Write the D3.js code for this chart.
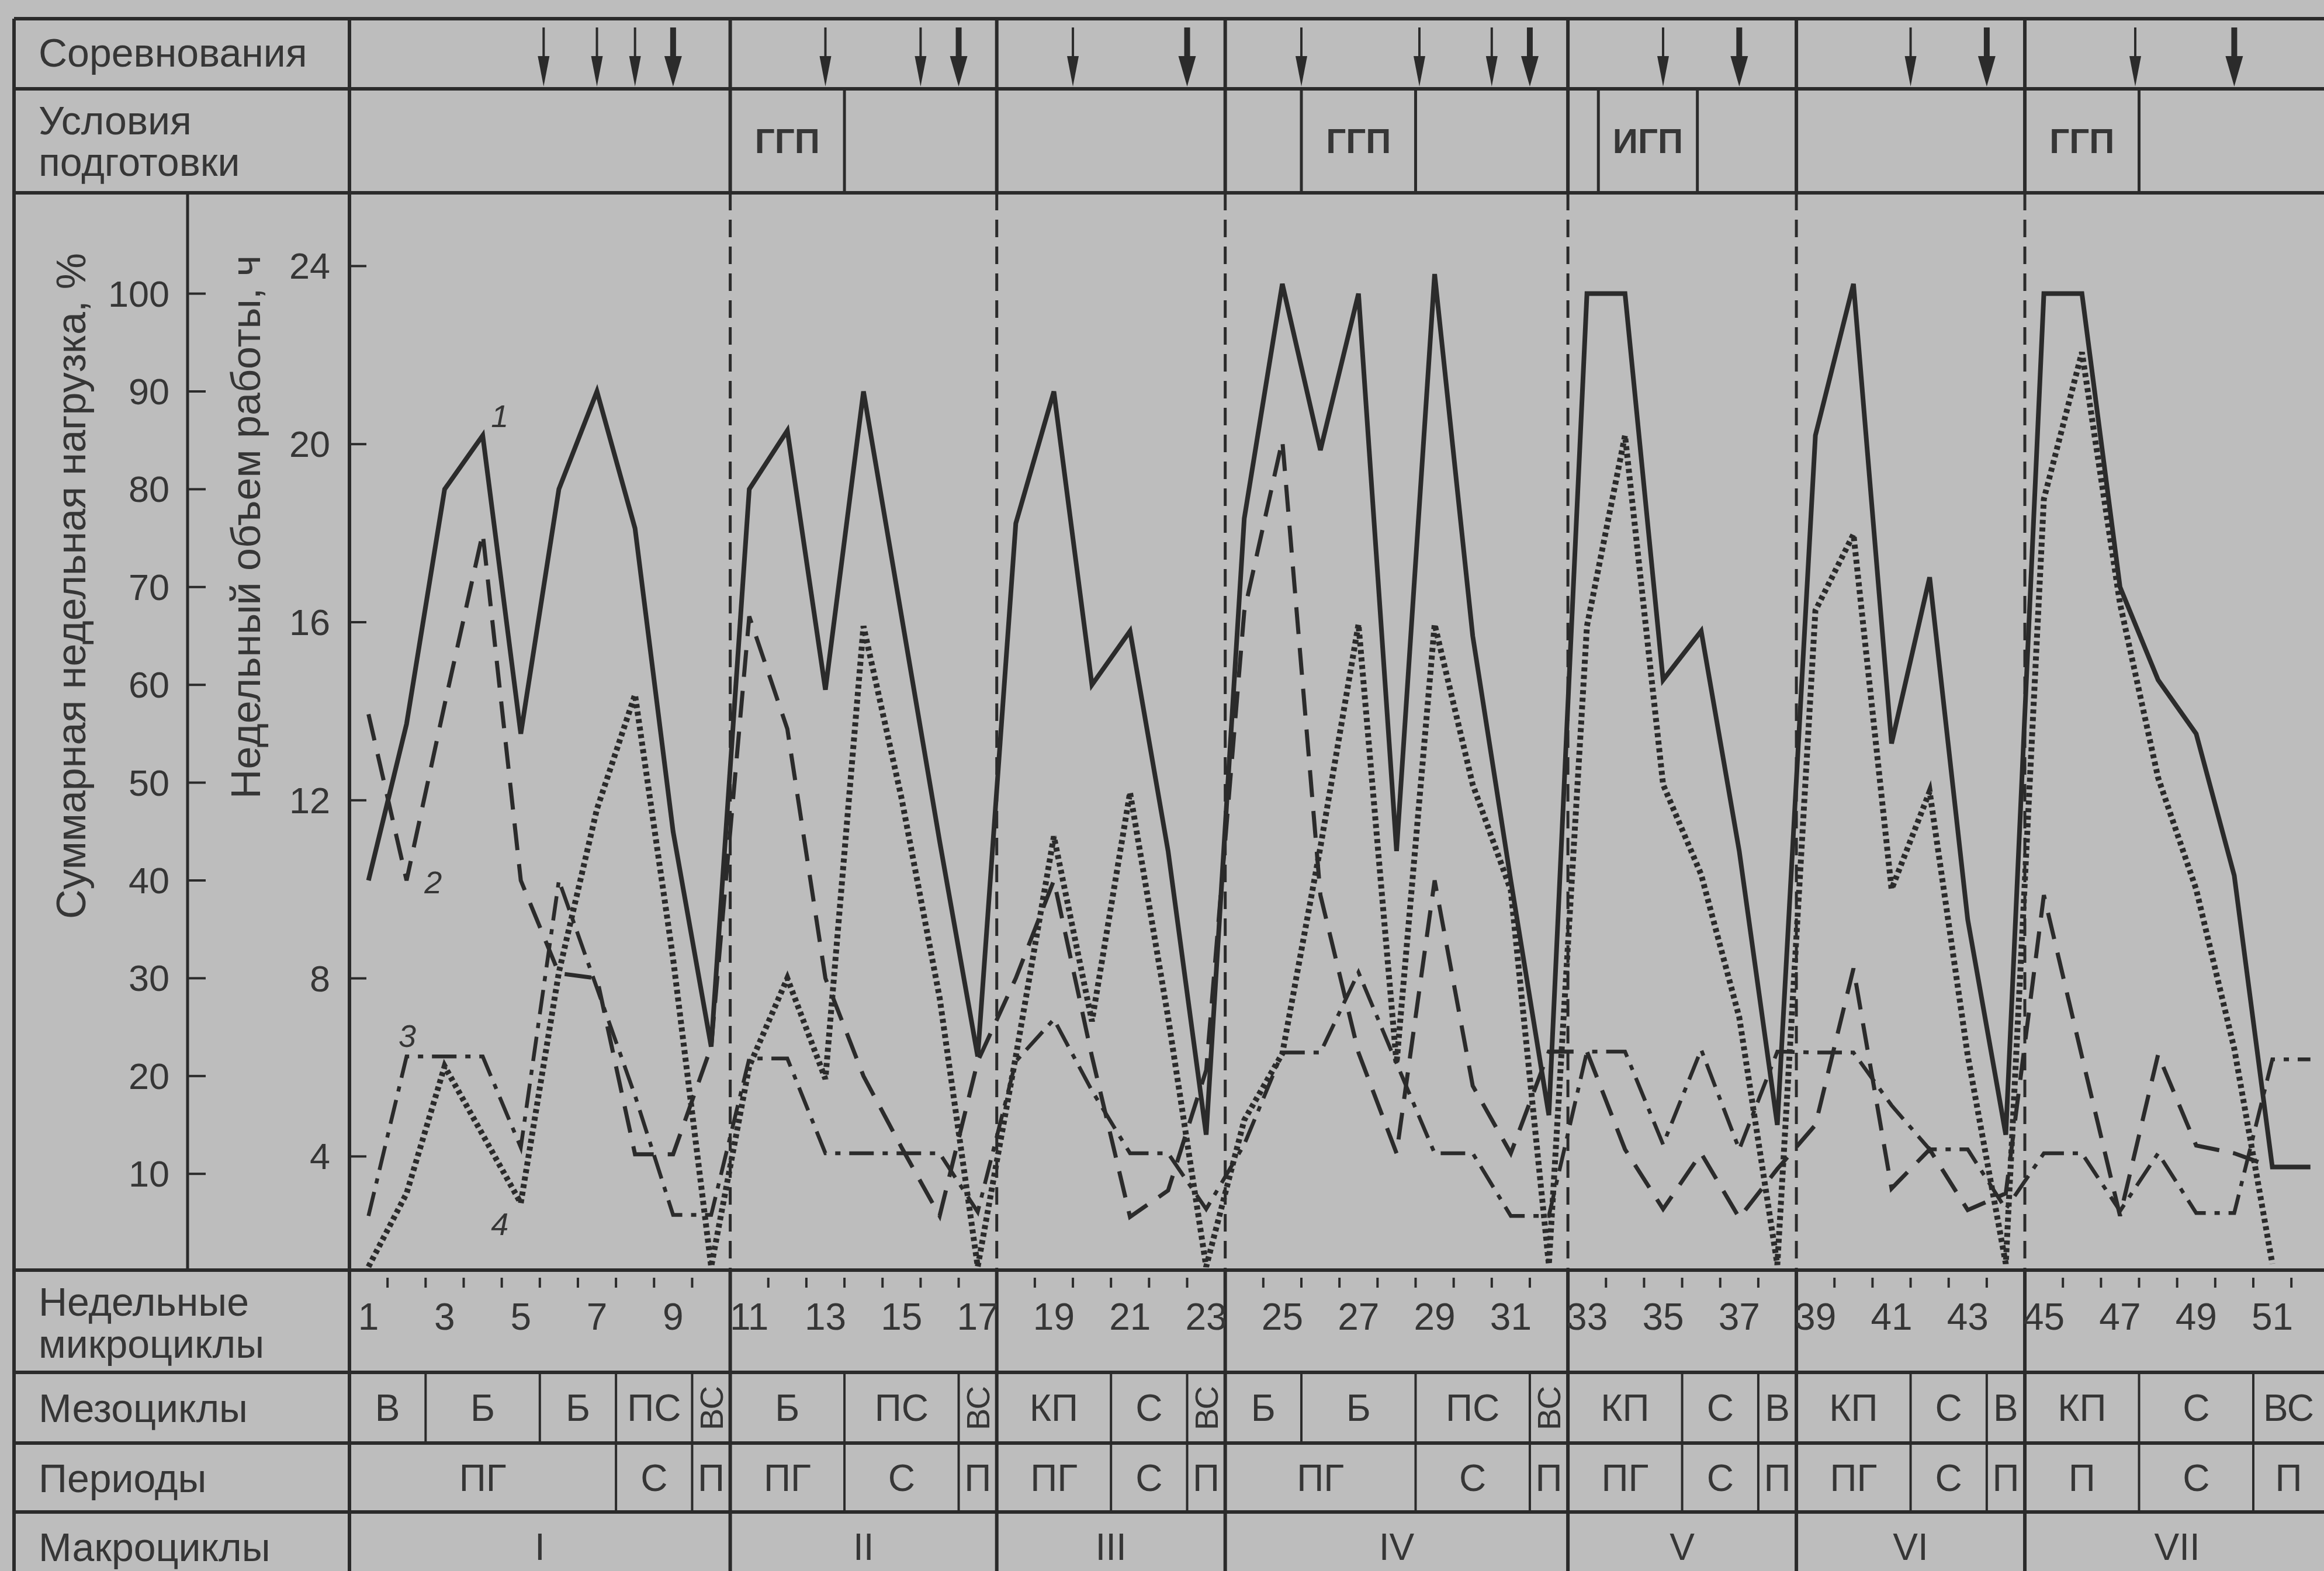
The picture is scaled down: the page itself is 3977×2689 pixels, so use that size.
<!DOCTYPE html>
<html><head><meta charset="utf-8">
<script src="https://cdn.jsdelivr.net/npm/d3@7"></script>
<style>body{margin:0;background:#bcbcbc}svg{display:block}</style>
</head><body><svg id="c" width="3977" height="2689"></svg>
<script>
// ---------------- DATA ----------------
const weeks = [1,2,3,4,5,6,7,8,9,10,11,12,13,14,15,16,17,18,19,20,21,22,23,24,25,26,
  27,28,29,30,31,32,33,34,35,36,37,38,39,40,41,42,43,44,45,46,47,48,49,50,51,52];
// 1 — суммарная недельная нагрузка (solid)
const line1 = [40,56,80,85.5,55,80,90,76,45,23, 80,86,59.5,90,67,44,22, 76.5,90,60,65.5,43,14,
  77,101,84,100,43,102,65,40,16, 100,100,60.5,65.5,43,15, 85.5,101,54,71,36,14,
  100,100,70,60.5,55,40.5,10.7,10.7];
// 2 (dashed)
const line2 = [57,40,58,75.5,40,30.5,30,12,12,23, 67,55.5,30,20,12.7,5.7,21.5, 30,40,22,5.6,8.3,20.6,
  67.5,85,38.5,22.4,12.1,40,19,12.1,22.5, 22.5,12.5,6.4,12.1,5.5,10.5, 15,31,8.5,12.5,6.3,8,
  38.5,22,5.7,22.2,12.9,12.1,10.7,10.7];
// 3 (dash-dot)
const line3 = [5.7,22,22,22,12.7,40,29,18,5.8,5.8, 21.8,21.8,12.1,12.1,12.1,12.1,6.1, 21.5,25.8,18.5,12.1,12.1,6.4,
  13,22.4,22.4,30.6,21.3,12.1,12.1,5.7,5.7, 22.5,22.5,13,22.7,12.5,22.5, 22.4,22.4,17,12.5,12.5,6.4,
  12.1,12.1,6.2,12.1,6,6,21.7,21.7];
// 4 (dotted)
const line4 = [0.5,8,21,14,7,30.6,47.3,59,32,0.5, 21,30,19.7,66,48.4,28,0.5, 22,44.5,25.6,49,26,0.5,
  15.5,22.3,43.4,66.2,21.3,66.2,49.8,39,0.7, 66,85.5,49.8,40.6,26,0.7, 67.6,75.4,39.1,49.1,22.1,0.8,
  79,94,68.3,50.5,39.1,22.8,0.8,null];

const weekLabels = [1,3,5,7,9,11,13,15,17,19,21,23,25,27,29,31,33,35,37,39,41,43,45,47,49,51];
const pctTicks = [10,20,30,40,50,60,70,80,90,100];
const hourTicks = [4,8,12,16,20,24];

const macroLabels = ["I","II","III","IV","V","VI","VII"];
const macroBounds = [0.5,10.5,17.5,23.5,32.5,38.5,44.5,52.5];

const mesoLabels = ["В","Б","Б","ПС","ВС", "Б","ПС","ВС", "КП","С","ВС", "Б","Б","ПС","ВС",
  "КП","С","В", "КП","С","В", "КП","С","ВС"];
const mesoFrom = [0.5,2.5,5.5,7.5,9.5, 10.5,13.5,16.5, 17.5,20.5,22.5, 23.5,25.5,28.5,31.5,
  32.5,35.5,37.5, 38.5,41.5,43.5, 44.5,47.5,50.5];
const mesoTo = [2.5,5.5,7.5,9.5,10.5, 13.5,16.5,17.5, 20.5,22.5,23.5, 25.5,28.5,31.5,32.5,
  35.5,37.5,38.5, 41.5,43.5,44.5, 47.5,50.5,52.5];

const periodLabels = ["ПГ","С","П", "ПГ","С","П", "ПГ","С","П", "ПГ","С","П",
  "ПГ","С","П", "ПГ","С","П", "П","С","П"];
const periodFrom = [0.5,7.5,9.5, 10.5,13.5,16.5, 17.5,20.5,22.5, 23.5,28.5,31.5,
  32.5,35.5,37.5, 38.5,41.5,43.5, 44.5,47.5,50.5];
const periodTo = [7.5,9.5,10.5, 13.5,16.5,17.5, 20.5,22.5,23.5, 28.5,31.5,32.5,
  35.5,37.5,38.5, 41.5,43.5,44.5, 47.5,50.5,52.5];

const condLabels = ["ГГП","ГГП","ИГП","ГГП"];
const condFrom = [10.5,25.5,33.3,44.5];
const condTo = [13.5,28.5,35.9,47.5];

const compWeeks = [5.6,7,8,9, 13,15.5,16.5, 19.5,22.5, 25.5,28.6,30.5,31.5, 35,37, 41.5,43.5, 47.4,50];
const compMain  = [0,0,0,1, 0,0,1, 0,1, 0,0,0,1, 0,1, 0,1, 0,1];

// ---------------- LAYOUT ----------------
const W = 3977, H = 2689;
const xL = 24, xLab = 598, xAx = 321;
const yTop = 32, yR1 = 152, yR2 = 330, yCB = 2174, yWk = 2349, yMe = 2470, yPe = 2588;
const ink = "#2b2b2b", txt = "#363636";
const font = "'Liberation Sans', Arial, sans-serif";

const svg = d3.select("#c");
svg.append("rect").attr("width", W).attr("height", H).attr("fill", "#bdbdbd");

const x = d3.scaleLinear().domain([0.5, 52.5]).range([xLab, xLab + 52 * 65.16]);
const yP = d3.scaleLinear().domain([0, 100]).range([2176.6, 2176.6 - 1674]);
const yH = d3.scaleLinear().domain([0, 24]).range([2284.2, 2284.2 - 24 * 76.2]);

const g = svg.append("g");
function hline(y, x1, x2, w) {
  g.append("line").attr("x1", x1).attr("x2", x2).attr("y1", y).attr("y2", y)
    .attr("stroke", ink).attr("stroke-width", w || 6);
}
function vline(xx, y1, y2, w, dash) {
  const l = g.append("line").attr("x1", xx).attr("x2", xx).attr("y1", y1).attr("y2", y2)
    .attr("stroke", ink).attr("stroke-width", w || 6);
  if (dash) l.attr("stroke-dasharray", dash);
}
function label(t, xx, yy, size, opts) {
  opts = opts || {};
  const e = g.append("text").attr("x", xx).attr("y", yy).text(t)
    .attr("font-family", font).attr("font-size", size).attr("fill", txt)
    .attr("text-anchor", opts.anchor || "middle").attr("dominant-baseline", "central");
  if (opts.weight) e.attr("font-weight", opts.weight);
  if (opts.style) e.attr("font-style", opts.style);
  if (opts.rotate) e.attr("transform", `rotate(-90,${xx},${yy})`);
  return e;
}

// horizontal rules
[yTop, yR1, yR2, yCB, yWk, yMe, yPe].forEach(y => hline(y, xL, W, 6));
// left border & label-column border
vline(xL, yTop, H, 6);
vline(xLab, yTop, H, 6);
vline(xAx, yR2, yCB, 5);

// macro boundaries: solid in table rows, dashed in chart
macroBounds.slice(1, -1).forEach(b => {
  vline(x(b), yTop, yR2, 6);
  vline(x(b), yR2, yCB, 5, "30,16");
  vline(x(b), yCB, H, 6);
});

// row labels
label("Соревнования", 66, 90, 68, {anchor: "start"});
label("Условия", 66, 206, 68, {anchor: "start"});
label("подготовки", 66, 277, 68, {anchor: "start"});
label("Недельные", 66, 2228, 68, {anchor: "start"});
label("микроциклы", 66, 2300, 68, {anchor: "start"});
label("Мезоциклы", 66, 2410, 68, {anchor: "start"});
label("Периоды", 66, 2530, 68, {anchor: "start"});
label("Макроциклы", 66, 2648, 68, {anchor: "start"});

// axis titles
label("Суммарная недельная нагрузка, %", 122, 1003, 70, {rotate: true});
label("Недельный объем работы, ч", 421, 902, 70, {rotate: true});

// percent axis
pctTicks.forEach(p => {
  g.append("line").attr("x1", xAx).attr("x2", xAx + 31).attr("y1", yP(p)).attr("y2", yP(p))
    .attr("stroke", ink).attr("stroke-width", 4);
  label(p, 290, yP(p), 63, {anchor: "end"});
});
// hours axis
hourTicks.forEach(h => {
  g.append("line").attr("x1", xLab).attr("x2", xLab + 29).attr("y1", yH(h)).attr("y2", yH(h))
    .attr("stroke", ink).attr("stroke-width", 4);
  label(h, 565, yH(h), 63, {anchor: "end"});
});

// week ticks & labels
weeks.slice(0, -1).forEach(w => {
  g.append("line").attr("x1", x(w + 0.5)).attr("x2", x(w + 0.5)).attr("y1", 2187).attr("y2", 2204)
    .attr("stroke", ink).attr("stroke-width", 4);
});
weekLabels.forEach(w => label(w, x(w), 2254, 64));

// mesocycles
mesoLabels.forEach((m, i) => {
  if (!macroBounds.includes(mesoFrom[i])) vline(x(mesoFrom[i]), yWk, yMe, 4);
  const cx = (x(mesoFrom[i]) + Math.min(x(mesoTo[i]), W)) / 2;
  const narrow = (mesoTo[i] - mesoFrom[i]) < 1.5 && m.length > 1;
  label(m, cx, 2410, narrow ? 56 : 64, {rotate: narrow});
});
// periods
periodLabels.forEach((p, i) => {
  if (!macroBounds.includes(periodFrom[i])) vline(x(periodFrom[i]), yMe, yPe, 4);
  const cx = (x(periodFrom[i]) + Math.min(x(periodTo[i]), W)) / 2;
  label(p, cx, 2530, 64);
});
// macrocycles
macroLabels.forEach((m, i) => {
  label(m, (x(macroBounds[i]) + x(macroBounds[i + 1])) / 2, 2648, 64);
});

// training conditions
condLabels.forEach((c, i) => {
  [condFrom[i], condTo[i]].forEach(b => {
    if (!macroBounds.includes(b)) vline(x(b), yR1, yR2, 5);
  });
  label(c, (x(condFrom[i]) + x(condTo[i])) / 2, 241, 60, {weight: "bold"});
});

// competitions arrows
compWeeks.forEach((cw, i) => {
  const cx = x(cw), bold = compMain[i] === 1;
  const hw = bold ? 15 : 10, sw = bold ? 10 : 4;
  g.append("line").attr("x1", cx).attr("x2", cx).attr("y1", 47).attr("y2", 110)
    .attr("stroke", ink).attr("stroke-width", sw);
  g.append("path").attr("d", `M${cx - hw},96L${cx + hw},96L${cx},148Z`).attr("fill", ink);
});

// ---------------- LINES ----------------
const chart = svg.append("g");
const mk = d3.line().defined(d => d[1] !== null).x(d => x(d[0])).y(d => yP(d[1]));
function series(vals, w, dash, cap) {
  const p = chart.append("path").attr("d", mk(weeks.map((wk, i) => [wk, vals[i]])))
    .attr("fill", "none").attr("stroke", ink).attr("stroke-width", w)
    .attr("stroke-linejoin", "miter").attr("stroke-linecap", cap || "butt");
  if (dash) p.attr("stroke-dasharray", dash);
}
series(line4, 10, "7,6");
series(line3, 6.5, "42,15,9,15");
series(line2, 7, "46,24");
series(line1, 8, null);

// line labels
label("1", x(4.45), yP(87.5), 54, {style: "italic"});
label("2", x(2.7), yP(39.8), 54, {style: "italic"});
label("3", x(2.02), yP(24.1), 54, {style: "italic"});
label("4", x(4.45), yP(4.9), 54, {style: "italic"});
</script></body></html>
